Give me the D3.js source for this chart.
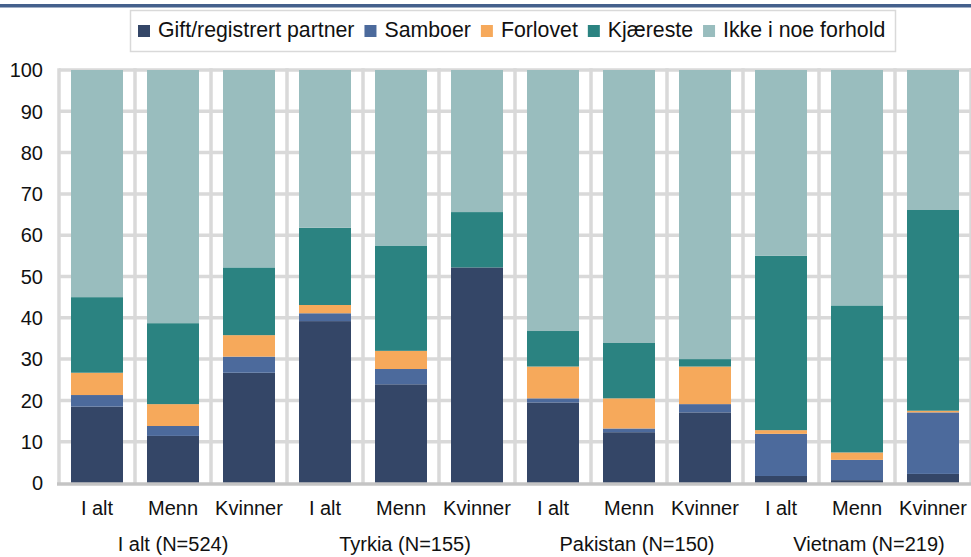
<!DOCTYPE html>
<html>
<head>
<meta charset="utf-8">
<script src="https://cdn.jsdelivr.net/npm/d3@7"></script>
<style>
    body { margin: 0; background: #fff; }
    svg { display: block; font-family: "Liberation Sans", Arial, sans-serif; }
</style>
</head>
<body>
<svg></svg>
<script>
const width = 971, height = 557;

// categories (sub label + group)
const subLabels = ["I alt", "Menn", "Kvinner", "I alt", "Menn", "Kvinner",
                   "I alt", "Menn", "Kvinner", "I alt", "Menn", "Kvinner"];
const groups = ["I alt (N=524)", "Tyrkia (N=155)", "Pakistan (N=150)", "Vietnam (N=219)"];
const seriesNames = ["Gift/registrert partner", "Samboer", "Forlovet", "Kjæreste", "Ikke i noe forhold"];
const seriesColors = ["#344667", "#4c6a9c", "#f6a95b", "#2b8381", "#99bdbe"];

// percentages per series, one value per bar
const gift      = [18.5, 11.4, 26.7, 39.2, 23.9, 52.2, 19.5, 12.3, 17.1, 1.7, 0.7, 2.2];
const samboer   = [2.8, 2.4, 3.9, 1.9, 3.7, 0.0, 1.0, 0.9, 2.0, 10.2, 4.9, 14.9];
const forlovet  = [5.4, 5.3, 5.2, 2.0, 4.4, 0.0, 7.7, 7.3, 9.1, 0.9, 1.8, 0.4];
const kjaereste = [18.3, 19.6, 16.4, 18.7, 25.5, 13.4, 8.6, 13.4, 1.8, 42.2, 35.6, 48.6];
const ikke      = [55.0, 61.3, 47.8, 38.2, 42.5, 34.4, 63.2, 66.1, 70.0, 45.0, 57.0, 33.9];
const yTicks = [0, 10, 20, 30, 40, 50, 60, 70, 80, 90, 100];

const rows = subLabels.map((s, i) => ({
    idx: i,
    s0: gift[i], s1: samboer[i], s2: forlovet[i], s3: kjaereste[i], s4: ikke[i]
}));
const keys = ["s0", "s1", "s2", "s3", "s4"];

const plotLeft = 59, plotRight = 971, plotTop = 70, plotBottom = 483;
const pad = 0.316;

const x = d3.scaleBand()
    .domain(d3.range(subLabels.length))
    .range([plotLeft, plotRight])
    .paddingInner(pad)
    .paddingOuter(pad / 2);

const y = d3.scaleLinear().domain([0, 100]).range([plotBottom, plotTop]);

const svg = d3.select('svg')
    .attr('width', width)
    .attr('height', height);

// top rule
svg.append('rect')
    .attr('x', 0).attr('y', 4)
    .attr('width', width).attr('height', 3.5)
    .attr('fill', '#44608c');

// gridlines
const grid = svg.append('g');
grid.selectAll('.hgrid')
    .data(yTicks.filter(d => d > 0))
    .enter().append('line')
    .attr('x1', plotLeft).attr('x2', plotRight)
    .attr('y1', d => y(d)).attr('y2', d => y(d))
    .attr('stroke', '#d9d9d9').attr('stroke-width', 3.5);

const edges = d3.range(subLabels.length + 1).map(i => x(0) - x.step() * pad / 2 + i * x.step());
grid.selectAll('.vgrid')
    .data(edges)
    .enter().append('line')
    .attr('x1', d => d).attr('x2', d => d)
    .attr('y1', plotTop - 1.75).attr('y2', plotBottom)
    .attr('stroke', '#d9d9d9').attr('stroke-width', 3.5);

// bars
const stacked = d3.stack().keys(keys)(rows);
svg.append('g')
    .selectAll('g')
    .data(stacked)
    .enter().append('g')
    .attr('fill', (d, i) => seriesColors[i])
    .selectAll('rect')
    .data(d => d)
    .enter().append('rect')
    .attr('x', d => x(d.data.idx))
    .attr('width', x.bandwidth())
    .attr('y', d => y(d[1]))
    .attr('height', d => y(d[0]) - y(d[1]));

// x axis line
svg.append('line')
    .attr('x1', plotLeft - 2).attr('x2', plotRight)
    .attr('y1', plotBottom + 1).attr('y2', plotBottom + 1)
    .attr('stroke', '#c4c4c4').attr('stroke-width', 3.5);

// y tick labels
svg.append('g')
    .selectAll('text')
    .data(yTicks)
    .enter().append('text')
    .attr('x', 43)
    .attr('y', d => y(d))
    .attr('dy', '0.36em')
    .attr('text-anchor', 'end')
    .attr('font-size', 20)
    .attr('fill', '#111')
    .text(d => d);

// x category labels
svg.append('g')
    .selectAll('text')
    .data(subLabels)
    .enter().append('text')
    .attr('x', (d, i) => x(i) + x.bandwidth() / 2)
    .attr('y', 515)
    .attr('text-anchor', 'middle')
    .attr('font-size', 20)
    .attr('fill', '#111')
    .text(d => d);

// group labels, nudged a little right like the original
svg.append('g')
    .selectAll('text')
    .data(groups)
    .enter().append('text')
    .attr('x', (d, i) => x(i * 3 + 1) + x.bandwidth() / 2 + i * 4)
    .attr('y', 551)
    .attr('text-anchor', 'middle')
    .attr('font-size', 20)
    .attr('fill', '#111')
    .text(d => d);

// legend
const legend = svg.append('g');
legend.append('rect')
    .attr('x', 130.5).attr('y', 10.5)
    .attr('width', 765).attr('height', 41)
    .attr('fill', '#fff')
    .attr('stroke', '#d9d9d9').attr('stroke-width', 1.5);

let lx = 138;
seriesNames.forEach((name, i) => {
    legend.append('rect')
        .attr('x', lx).attr('y', 25)
        .attr('width', 12).attr('height', 12)
        .attr('fill', seriesColors[i]);
    const t = legend.append('text')
        .attr('x', lx + 20).attr('y', 37)
        .attr('font-size', 21.3)
        .attr('fill', '#111')
        .text(name);
    lx += 20 + t.node().getComputedTextLength() + 10;
});
</script>
</body>
</html>
